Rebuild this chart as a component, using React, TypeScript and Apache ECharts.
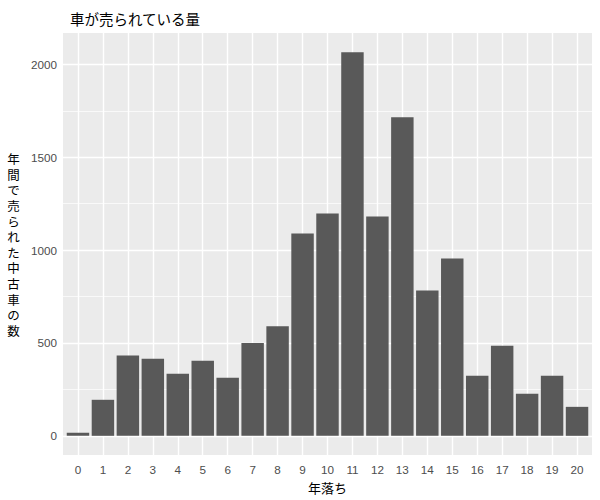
import React, { useEffect, useRef } from "react";
import * as echarts from "echarts";

const categories: number[] = [0, 1, 2, 3, 4, 5, 6, 7, 8, 9, 10, 11, 12, 13, 14, 15, 16, 17, 18, 19, 20];
const counts: number[] = [16, 194, 433, 415, 334, 404, 313, 500, 590, 1089, 1197, 2066, 1181, 1715, 782, 955, 324, 485, 226, 324, 156];
const yMajorTicks: number[] = [0, 500, 1000, 1500, 2000];
const yMinorTicks: number[] = [250, 750, 1250, 1750];
const titleText = "車が売られている量";
const xTitle = "年落ち";
const yTitle = "年間で売られた中古車の数";

export default function App() {
  const ref = useRef<HTMLDivElement>(null);
  useEffect(() => {
    if (!ref.current) return;
    const chart = echarts.init(ref.current, undefined, { renderer: "svg" });
    const W = 600;
    const gridLeft = 63;
    const gridRight = 8;
    const gridTop = 33;
    const gridBottom = 45;
    const plotW = W - gridLeft - gridRight;
    const xMin = categories[0] - 0.6;
    const xMax = categories[categories.length - 1] + 0.6;
    const unit = plotW / (xMax - xMin);
    const maxV = Math.max(...counts);
    const pad = maxV * 0.05;
    const numFont = "Liberation Sans, Arial, sans-serif";
    const jpFont = "Noto Sans CJK JP, sans-serif";

    const gridLines: any[] = [
      ...categories.map((c) => ({ xAxis: c, lineStyle: { color: "#FFFFFF", width: 1.4, type: "solid" } })),
      ...yMajorTicks.map((v) => ({ yAxis: v, lineStyle: { color: "#FFFFFF", width: 1.4, type: "solid" } })),
      ...yMinorTicks.map((v) => ({ yAxis: v, lineStyle: { color: "#FFFFFF", width: 0.7, type: "solid" } })),
    ];

    const chars = yTitle.split("");
    const step = 15.6;
    const centerY = 246;
    const startY = centerY - ((chars.length - 1) * step) / 2;
    const yTitleChars = chars.map((ch, i) => ({
      type: "text",
      x: 13.5,
      y: startY + i * step,
      style: {
        text: ch,
        fontFamily: "Liberation Sans, Noto Sans CJK JP, sans-serif",
        fontSize: 12.5,
        lineHeight: 12.5,
        fill: "#000000",
        textAlign: "center",
        textVerticalAlign: "middle",
      },
    }));

    chart.setOption({
      animation: false,
      grid: {
        left: gridLeft,
        right: gridRight,
        top: gridTop,
        bottom: gridBottom,
        show: true,
        backgroundColor: "#EBEBEB",
        borderWidth: 0,
      },
      title: {
        text: titleText,
        left: 65,
        top: 6,
        textStyle: { fontFamily: jpFont, fontSize: 14.5, fontWeight: "normal", color: "#000000" },
      },
      xAxis: {
        type: "value",
        min: xMin,
        max: xMax,
        axisLine: { show: false },
        splitLine: { show: false },
        axisTick: { show: true, length: 3, customValues: categories, lineStyle: { color: "#333333", width: 1 } },
        axisLabel: {
          customValues: categories,
          margin: 8,
          fontFamily: numFont,
          fontSize: 11.7,
          color: "#4D4D4D",
          formatter: (v: number) => String(v),
        },
        name: xTitle,
        nameLocation: "middle",
        nameGap: 26,
        nameTextStyle: { fontFamily: jpFont, fontSize: 13, color: "#000000" },
      },
      yAxis: {
        type: "value",
        min: -pad,
        max: maxV + pad,
        axisLine: { show: false },
        splitLine: { show: false },
        axisTick: { show: true, length: 3, customValues: yMajorTicks, lineStyle: { color: "#333333", width: 1 } },
        axisLabel: {
          customValues: yMajorTicks,
          margin: 6,
          fontFamily: numFont,
          fontSize: 11.7,
          color: "#4D4D4D",
          formatter: (v: number) => String(v),
        },
      },
      graphic: [{ type: "group", children: yTitleChars }],
      series: [
        {
          type: "bar",
          z: 3,
          barWidth: unit * 0.9,
          data: categories.map((c, i) => [c, counts[i]]),
          itemStyle: { color: "#595959" },
          silent: true,
          markLine: {
            z: 1,
            silent: true,
            symbol: ["none", "none"],
            label: { show: false },
            emphasis: { disabled: true },
            data: gridLines,
          },
        },
      ],
    });
    return () => chart.dispose();
  }, []);
  return (
    <div
      ref={ref}
      style={{ position: "fixed", left: 0, top: 0, width: 600, height: 500, background: "#FFFFFF" }}
    />
  );
}
